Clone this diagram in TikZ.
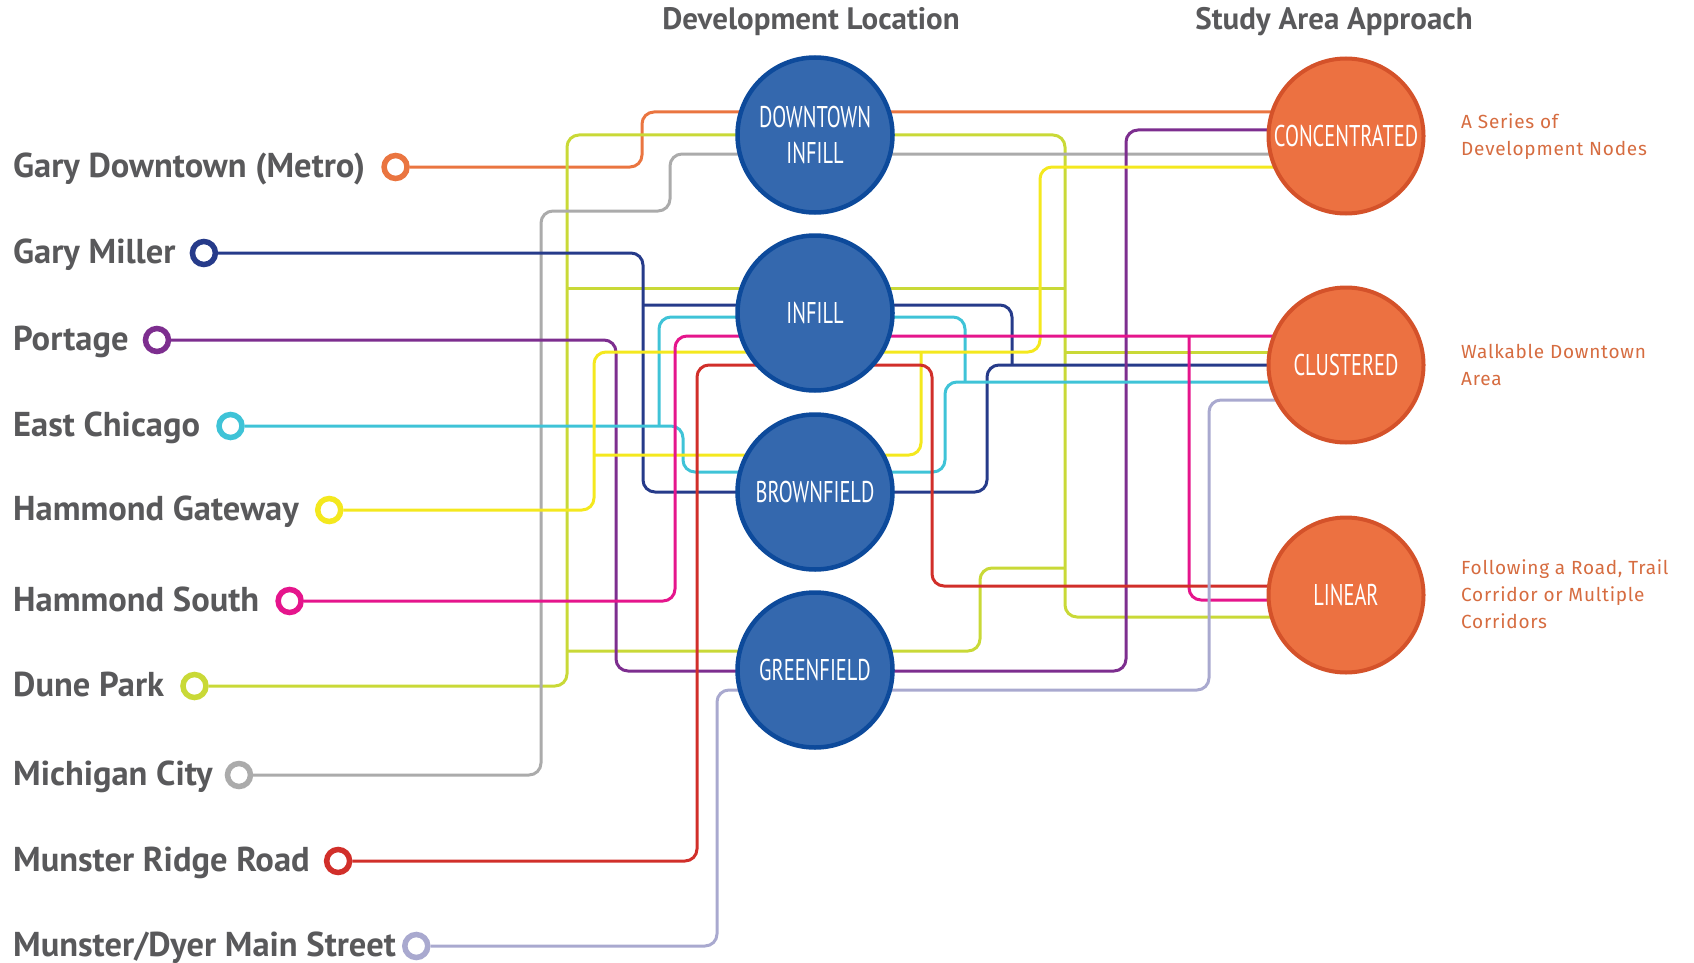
\documentclass[tikz,border=0pt]{standalone}
\usepackage{fontspec}
\setmainfont{PT Sans}
\newfontfamily\circlefont[FakeStretch=0.68]{PT Sans}
\newfontfamily\stationfont{PT Sans}
\newfontfamily\notefont[LetterSpace=4]{Fira Sans}
\usetikzlibrary{positioning, calc, backgrounds}

\definecolor{devblue}{RGB}{52, 104, 174}
\definecolor{devedge}{RGB}{13, 74, 155}
\definecolor{studyorange}{RGB}{236, 113, 65}
\definecolor{studyedge}{RGB}{212, 82, 42}
\definecolor{labelgray}{RGB}{89, 89, 91}
\definecolor{notetext}{RGB}{214, 108, 64}
\definecolor{metroorange}{RGB}{234, 117, 64}
\definecolor{millernavy}{RGB}{38, 59, 138}
\definecolor{portagepurple}{RGB}{125, 46, 143}
\definecolor{chicagocyan}{RGB}{63, 195, 215}
\definecolor{gatewayyellow}{RGB}{244, 232, 30}
\definecolor{southmagenta}{RGB}{229, 21, 140}
\definecolor{duneline}{RGB}{201, 217, 55}
\definecolor{michigangray}{RGB}{171, 171, 171}
\definecolor{ridgered}{RGB}{209, 47, 42}
\definecolor{dyerlavender}{RGB}{169, 169, 207}

\tikzset{
  devnode/.style={circle, draw=devedge, line width=4.5pt, fill=devblue, minimum size=155pt, inner sep=0pt,
    align=center, text=white, font=\circlefont\fontsize{30}{36}\selectfont},
  studynode/.style={circle, draw=studyedge, line width=4pt, fill=studyorange, minimum size=155pt, inner sep=0pt,
    align=center, text=white, font=\circlefont\fontsize{30}{36}\selectfont},
  station/.style={circle, draw=#1, line width=5.5pt, fill=white, minimum size=23pt, inner sep=0pt},
  route/.style={draw=#1, line width=3pt, rounded corners=12pt},
  stationlabel/.style={anchor=west, inner sep=0pt, text height=23pt, text depth=2pt, text=labelgray,
    font=\stationfont\bfseries\fontsize{34.5}{38}\selectfont},
  heading/.style={text=labelgray, font=\bfseries\fontsize{31}{34}\selectfont},
  note/.style={anchor=west, align=left, inner sep=0pt, text=notetext, font=\notefont\fontsize{19}{27}\selectfont}
}

\begin{document}
\begin{tikzpicture}[x=1pt, y=-1pt]
  \useasboundingbox (0,0) rectangle (1694,963);

  % Headings
  \node[heading] (devhead) at (811,22) {Development Location};
  \node[heading] (studyhead) at (1334,22) {Study Area Approach};

  % Development location
  \node[devnode] (dtinfill) at (815,135) {DOWNTOWN\\INFILL};
  \node[devnode] (infill) at (815,313) {INFILL};
  \node[devnode] (brown) at (815,492) {BROWNFIELD};
  \node[devnode] (green) at (815,670) {GREENFIELD};

  % Study area approach
  \node[studynode] (conc) at (1346,136) {CONCENTRATED};
  \node[studynode] (clus) at (1346,365) {CLUSTERED};
  \node[studynode] (linear) at (1346,595) {LINEAR};

  \node[note] (concnote) at (1461,137) {A Series of\\Development Nodes};
  \node[note] (clusnote) at (1461,365) {Walkable Downtown\\Area};
  \node[note] (linearnote) at (1461,594) {Following a Road, Trail\\Corridor or Multiple\\Corridors};

  % Stations
  \node[stationlabel] (lblmetro) at (13,167) {Gary Downtown (Metro)};
  \node[station=metroorange, right=16pt of lblmetro] (metro) {};
  \node[stationlabel] (lblmiller) at (13,253) {Gary Miller};
  \node[station=millernavy, right=14pt of lblmiller] (miller) {};
  \node[stationlabel] (lblportage) at (13,340) {Portage};
  \node[station=portagepurple, right=14pt of lblportage] (portage) {};
  \node[stationlabel] (lblchicago) at (13,426) {East Chicago};
  \node[station=chicagocyan, right=16pt of lblchicago] (chicago) {};
  \node[stationlabel] (lblgateway) at (13,510) {Hammond Gateway};
  \node[station=gatewayyellow, right=16pt of lblgateway] (gateway) {};
  \node[stationlabel] (lblsouth) at (13,601) {Hammond South};
  \node[station=southmagenta, right=16pt of lblsouth] (south) {};
  \node[stationlabel] (lbldune) at (13,686) {Dune Park};
  \node[station=duneline, right=16pt of lbldune] (dune) {};
  \node[stationlabel] (lblmich) at (13,775) {Michigan City};
  \node[station=michigangray, right=12pt of lblmich] (mich) {};
  \node[stationlabel] (lblridge) at (13,861) {Munster Ridge Road};
  \node[station=ridgered, right=14pt of lblridge] (ridge) {};
  \node[stationlabel] (lbldyer) at (13,946) {Munster/Dyer Main Street};
  \node[station=dyerlavender, right=6pt of lbldyer] (dyer) {};

  % Routes
  \begin{scope}[on background layer]
    \draw[route=metroorange] (metro) -- (642,167) -- (642,112) -- (conc.center |- 0,112);
    \draw[route=duneline] (dune) -- (567,686) -- (567,135) -- (1065,135) -- (1065,617) -- (linear.center |- 0,617);
    \draw[route=duneline] (567,288) -- (1065,288);
    \draw[route=duneline] (567,651) -- (980,651) -- (980,568) -- (1065,568);
    \draw[route=duneline] (1065,352) -- (clus.center |- 0,352);
    \draw[route=michigangray] (mich) -- (541,775) -- (541,211) -- (670,211) -- (670,154) -- (conc.center |- 0,154);
    \draw[route=millernavy] (miller) -- (643,253) -- (643,492) -- (987,492) -- (987,365) -- (clus.center |- 0,365);
    \draw[route=millernavy] (643,305) -- (1012,305) -- (1012,365);
    \draw[route=portagepurple] (portage) -- (616,340) -- (616,671) -- (1126,671) -- (1126,130) -- (conc.center |- 0,130);
    \draw[route=chicagocyan] (chicago) -- (683,426) -- (683,472) -- (945,472) -- (945,382) -- (clus.center |- 0,382);
    \draw[route=chicagocyan] (659,426) -- (659,317) -- (965,317) -- (965,382);
    \draw[route=gatewayyellow] (gateway) -- (594,510) -- (594,352) -- (1040,352) -- (1040,167) -- (conc.center |- 0,167);
    \draw[route=gatewayyellow] (594,455) -- (921,455) -- (921,352);
    \draw[route=southmagenta] (south) -- (675,601) -- (675,336) -- (clus.center |- 0,336);
    \draw[route=southmagenta] (1189,336) -- (1189,600) -- (linear.center |- 0,600);
    \draw[route=ridgered] (ridge) -- (697,861) -- (697,365) -- (932,365) -- (932,586) -- (linear.center |- 0,586);
    \draw[route=dyerlavender] (dyer) -- (717,946) -- (717,690) -- (1209,690) -- (1209,400) -- (clus.center |- 0,400);
  \end{scope}
\end{tikzpicture}
\end{document}
